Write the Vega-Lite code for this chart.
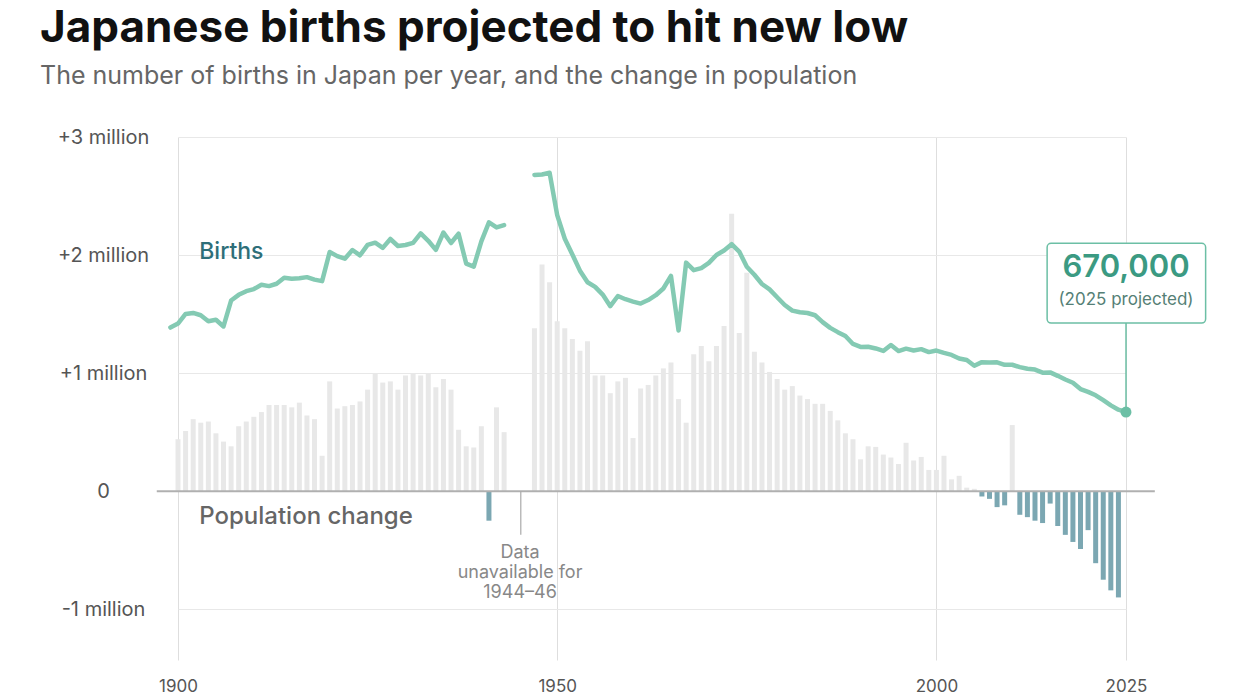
{
  "$schema": "https://vega.github.io/schema/vega-lite/v6.json",
  "width": 948,
  "height": 523,
  "autosize": {"type": "none"},
  "padding": {"left": 178, "top": 137, "right": 119, "bottom": 40},
  "background": "white",
  "config": {
    "font": "Inter",
    "view": {"stroke": null},
    "text": {"font": "Inter"}
  },
  "title": {
    "text": "Japanese births projected to hit new low",
    "subtitle": "The number of births in Japan per year, and the change in population",
    "anchor": "start",
    "frame": "group",
    "dx": -138,
    "offset": 38,
    "fontSize": 44,
    "fontWeight": 700,
    "color": "#111111",
    "subtitleFontSize": 25,
    "subtitleColor": "#666666",
    "subtitlePadding": 13,
    "subtitleFont": "Inter"
  },
  "datasets": {
    "births": [
      {"year": 1899, "births": 1386000, "seg": "a"},
      {"year": 1900, "births": 1420000, "seg": "a"},
      {"year": 1901, "births": 1501000, "seg": "a"},
      {"year": 1902, "births": 1510000, "seg": "a"},
      {"year": 1903, "births": 1490000, "seg": "a"},
      {"year": 1904, "births": 1440000, "seg": "a"},
      {"year": 1905, "births": 1452000, "seg": "a"},
      {"year": 1906, "births": 1395000, "seg": "a"},
      {"year": 1907, "births": 1615000, "seg": "a"},
      {"year": 1908, "births": 1663000, "seg": "a"},
      {"year": 1909, "births": 1694000, "seg": "a"},
      {"year": 1910, "births": 1712000, "seg": "a"},
      {"year": 1911, "births": 1748000, "seg": "a"},
      {"year": 1912, "births": 1737000, "seg": "a"},
      {"year": 1913, "births": 1757000, "seg": "a"},
      {"year": 1914, "births": 1808000, "seg": "a"},
      {"year": 1915, "births": 1800000, "seg": "a"},
      {"year": 1916, "births": 1804000, "seg": "a"},
      {"year": 1917, "births": 1813000, "seg": "a"},
      {"year": 1918, "births": 1792000, "seg": "a"},
      {"year": 1919, "births": 1779000, "seg": "a"},
      {"year": 1920, "births": 2026000, "seg": "a"},
      {"year": 1921, "births": 1991000, "seg": "a"},
      {"year": 1922, "births": 1969000, "seg": "a"},
      {"year": 1923, "births": 2043000, "seg": "a"},
      {"year": 1924, "births": 1998000, "seg": "a"},
      {"year": 1925, "births": 2086000, "seg": "a"},
      {"year": 1926, "births": 2105000, "seg": "a"},
      {"year": 1927, "births": 2061000, "seg": "a"},
      {"year": 1928, "births": 2136000, "seg": "a"},
      {"year": 1929, "births": 2077000, "seg": "a"},
      {"year": 1930, "births": 2085000, "seg": "a"},
      {"year": 1931, "births": 2103000, "seg": "a"},
      {"year": 1932, "births": 2183000, "seg": "a"},
      {"year": 1933, "births": 2121000, "seg": "a"},
      {"year": 1934, "births": 2044000, "seg": "a"},
      {"year": 1935, "births": 2191000, "seg": "a"},
      {"year": 1936, "births": 2102000, "seg": "a"},
      {"year": 1937, "births": 2181000, "seg": "a"},
      {"year": 1938, "births": 1928000, "seg": "a"},
      {"year": 1939, "births": 1902000, "seg": "a"},
      {"year": 1940, "births": 2116000, "seg": "a"},
      {"year": 1941, "births": 2277000, "seg": "a"},
      {"year": 1942, "births": 2234000, "seg": "a"},
      {"year": 1943, "births": 2254000, "seg": "a"},
      {"year": 1947, "births": 2679000, "seg": "b"},
      {"year": 1948, "births": 2682000, "seg": "b"},
      {"year": 1949, "births": 2697000, "seg": "b"},
      {"year": 1950, "births": 2338000, "seg": "b"},
      {"year": 1951, "births": 2138000, "seg": "b"},
      {"year": 1952, "births": 2005000, "seg": "b"},
      {"year": 1953, "births": 1868000, "seg": "b"},
      {"year": 1954, "births": 1770000, "seg": "b"},
      {"year": 1955, "births": 1731000, "seg": "b"},
      {"year": 1956, "births": 1665000, "seg": "b"},
      {"year": 1957, "births": 1567000, "seg": "b"},
      {"year": 1958, "births": 1653000, "seg": "b"},
      {"year": 1959, "births": 1626000, "seg": "b"},
      {"year": 1960, "births": 1606000, "seg": "b"},
      {"year": 1961, "births": 1589000, "seg": "b"},
      {"year": 1962, "births": 1619000, "seg": "b"},
      {"year": 1963, "births": 1660000, "seg": "b"},
      {"year": 1964, "births": 1717000, "seg": "b"},
      {"year": 1965, "births": 1824000, "seg": "b"},
      {"year": 1966, "births": 1361000, "seg": "b"},
      {"year": 1967, "births": 1936000, "seg": "b"},
      {"year": 1968, "births": 1872000, "seg": "b"},
      {"year": 1969, "births": 1890000, "seg": "b"},
      {"year": 1970, "births": 1934000, "seg": "b"},
      {"year": 1971, "births": 2001000, "seg": "b"},
      {"year": 1972, "births": 2039000, "seg": "b"},
      {"year": 1973, "births": 2092000, "seg": "b"},
      {"year": 1974, "births": 2030000, "seg": "b"},
      {"year": 1975, "births": 1901000, "seg": "b"},
      {"year": 1976, "births": 1833000, "seg": "b"},
      {"year": 1977, "births": 1755000, "seg": "b"},
      {"year": 1978, "births": 1709000, "seg": "b"},
      {"year": 1979, "births": 1643000, "seg": "b"},
      {"year": 1980, "births": 1577000, "seg": "b"},
      {"year": 1981, "births": 1529000, "seg": "b"},
      {"year": 1982, "births": 1515000, "seg": "b"},
      {"year": 1983, "births": 1509000, "seg": "b"},
      {"year": 1984, "births": 1490000, "seg": "b"},
      {"year": 1985, "births": 1432000, "seg": "b"},
      {"year": 1986, "births": 1383000, "seg": "b"},
      {"year": 1987, "births": 1347000, "seg": "b"},
      {"year": 1988, "births": 1314000, "seg": "b"},
      {"year": 1989, "births": 1247000, "seg": "b"},
      {"year": 1990, "births": 1222000, "seg": "b"},
      {"year": 1991, "births": 1223000, "seg": "b"},
      {"year": 1992, "births": 1209000, "seg": "b"},
      {"year": 1993, "births": 1188000, "seg": "b"},
      {"year": 1994, "births": 1238000, "seg": "b"},
      {"year": 1995, "births": 1187000, "seg": "b"},
      {"year": 1996, "births": 1207000, "seg": "b"},
      {"year": 1997, "births": 1192000, "seg": "b"},
      {"year": 1998, "births": 1203000, "seg": "b"},
      {"year": 1999, "births": 1178000, "seg": "b"},
      {"year": 2000, "births": 1191000, "seg": "b"},
      {"year": 2001, "births": 1171000, "seg": "b"},
      {"year": 2002, "births": 1154000, "seg": "b"},
      {"year": 2003, "births": 1124000, "seg": "b"},
      {"year": 2004, "births": 1111000, "seg": "b"},
      {"year": 2005, "births": 1063000, "seg": "b"},
      {"year": 2006, "births": 1093000, "seg": "b"},
      {"year": 2007, "births": 1090000, "seg": "b"},
      {"year": 2008, "births": 1091000, "seg": "b"},
      {"year": 2009, "births": 1070000, "seg": "b"},
      {"year": 2010, "births": 1071000, "seg": "b"},
      {"year": 2011, "births": 1051000, "seg": "b"},
      {"year": 2012, "births": 1037000, "seg": "b"},
      {"year": 2013, "births": 1030000, "seg": "b"},
      {"year": 2014, "births": 1004000, "seg": "b"},
      {"year": 2015, "births": 1006000, "seg": "b"},
      {"year": 2016, "births": 977000, "seg": "b"},
      {"year": 2017, "births": 946000, "seg": "b"},
      {"year": 2018, "births": 918000, "seg": "b"},
      {"year": 2019, "births": 865000, "seg": "b"},
      {"year": 2020, "births": 841000, "seg": "b"},
      {"year": 2021, "births": 812000, "seg": "b"},
      {"year": 2022, "births": 771000, "seg": "b"},
      {"year": 2023, "births": 727000, "seg": "b"},
      {"year": 2024, "births": 690000, "seg": "b"},
      {"year": 2025, "births": 670000, "seg": "b"}
    ],
    "pop": [
      {"year": 1900, "change": 440000},
      {"year": 1901, "change": 510000},
      {"year": 1902, "change": 610000},
      {"year": 1903, "change": 580000},
      {"year": 1904, "change": 590000},
      {"year": 1905, "change": 490000},
      {"year": 1906, "change": 420000},
      {"year": 1907, "change": 380000},
      {"year": 1908, "change": 550000},
      {"year": 1909, "change": 590000},
      {"year": 1910, "change": 630000},
      {"year": 1911, "change": 670000},
      {"year": 1912, "change": 730000},
      {"year": 1913, "change": 730000},
      {"year": 1914, "change": 730000},
      {"year": 1915, "change": 710000},
      {"year": 1916, "change": 750000},
      {"year": 1917, "change": 640000},
      {"year": 1918, "change": 610000},
      {"year": 1919, "change": 300000},
      {"year": 1920, "change": 930000},
      {"year": 1921, "change": 700000},
      {"year": 1922, "change": 720000},
      {"year": 1923, "change": 730000},
      {"year": 1924, "change": 760000},
      {"year": 1925, "change": 860000},
      {"year": 1926, "change": 1000000},
      {"year": 1927, "change": 920000},
      {"year": 1928, "change": 930000},
      {"year": 1929, "change": 860000},
      {"year": 1930, "change": 980000},
      {"year": 1931, "change": 1000000},
      {"year": 1932, "change": 980000},
      {"year": 1933, "change": 1000000},
      {"year": 1934, "change": 880000},
      {"year": 1935, "change": 950000},
      {"year": 1936, "change": 860000},
      {"year": 1937, "change": 520000},
      {"year": 1938, "change": 380000},
      {"year": 1939, "change": 370000},
      {"year": 1940, "change": 550000},
      {"year": 1941, "change": -250000},
      {"year": 1942, "change": 710000},
      {"year": 1943, "change": 500000},
      {"year": 1947, "change": 1380000},
      {"year": 1948, "change": 1920000},
      {"year": 1949, "change": 1770000},
      {"year": 1950, "change": 1440000},
      {"year": 1951, "change": 1380000},
      {"year": 1952, "change": 1290000},
      {"year": 1953, "change": 1190000},
      {"year": 1954, "change": 1270000},
      {"year": 1955, "change": 980000},
      {"year": 1956, "change": 980000},
      {"year": 1957, "change": 830000},
      {"year": 1958, "change": 930000},
      {"year": 1959, "change": 960000},
      {"year": 1960, "change": 450000},
      {"year": 1961, "change": 870000},
      {"year": 1962, "change": 900000},
      {"year": 1963, "change": 980000},
      {"year": 1964, "change": 1040000},
      {"year": 1965, "change": 1090000},
      {"year": 1966, "change": 780000},
      {"year": 1967, "change": 580000},
      {"year": 1968, "change": 1160000},
      {"year": 1969, "change": 1230000},
      {"year": 1970, "change": 1100000},
      {"year": 1971, "change": 1230000},
      {"year": 1972, "change": 1400000},
      {"year": 1973, "change": 2350000},
      {"year": 1974, "change": 1340000},
      {"year": 1975, "change": 1850000},
      {"year": 1976, "change": 1180000},
      {"year": 1977, "change": 1090000},
      {"year": 1978, "change": 1010000},
      {"year": 1979, "change": 950000},
      {"year": 1980, "change": 860000},
      {"year": 1981, "change": 890000},
      {"year": 1982, "change": 810000},
      {"year": 1983, "change": 780000},
      {"year": 1984, "change": 740000},
      {"year": 1985, "change": 740000},
      {"year": 1986, "change": 680000},
      {"year": 1987, "change": 600000},
      {"year": 1988, "change": 490000},
      {"year": 1989, "change": 440000},
      {"year": 1990, "change": 270000},
      {"year": 1991, "change": 380000},
      {"year": 1992, "change": 375000},
      {"year": 1993, "change": 310000},
      {"year": 1994, "change": 285000},
      {"year": 1995, "change": 230000},
      {"year": 1996, "change": 410000},
      {"year": 1997, "change": 260000},
      {"year": 1998, "change": 290000},
      {"year": 1999, "change": 180000},
      {"year": 2000, "change": 180000},
      {"year": 2001, "change": 300000},
      {"year": 2002, "change": 100000},
      {"year": 2003, "change": 130000},
      {"year": 2004, "change": 30000},
      {"year": 2005, "change": 20000},
      {"year": 2006, "change": -45000},
      {"year": 2007, "change": -65000},
      {"year": 2008, "change": -135000},
      {"year": 2009, "change": -120000},
      {"year": 2010, "change": 560000},
      {"year": 2011, "change": -200000},
      {"year": 2012, "change": -220000},
      {"year": 2013, "change": -250000},
      {"year": 2014, "change": -270000},
      {"year": 2015, "change": -105000},
      {"year": 2016, "change": -295000},
      {"year": 2017, "change": -370000},
      {"year": 2018, "change": -430000},
      {"year": 2019, "change": -490000},
      {"year": 2020, "change": -330000},
      {"year": 2021, "change": -610000},
      {"year": 2022, "change": -750000},
      {"year": 2023, "change": -840000},
      {"year": 2024, "change": -900000}
    ]
  },
  "encoding": {
    "x": {
      "field": "year",
      "type": "quantitative",
      "scale": {"domain": [1900, 2025], "nice": false, "zero": false, "padding": 0},
      "axis": {
        "title": null,
        "values": [1900, 1950, 2000, 2025],
        "format": "d",
        "grid": true,
        "gridColor": "#dedede",
        "gridWidth": 1,
        "domain": false,
        "ticks": false,
        "tickSize": 0,
        "labelFlush": false,
        "labelAlign": "center",
        "labelPadding": 18,
        "labelFontSize": 17,
        "labelColor": "#555555",
        "labelFont": "Inter"
      }
    }
  },
  "layer": [
    {
      "data": {"name": "pop"},
      "mark": {"type": "bar", "orient": "vertical", "size": 5},
      "encoding": {
        "y": {
          "field": "change",
          "type": "quantitative",
          "scale": {"domain": [-1430000, 3000000], "nice": false, "zero": false},
          "axis": {
            "title": null,
            "values": [-1000000, 0, 1000000, 2000000, 3000000],
            "labelExpr": "datum.value == 0 ? '0' : (datum.value > 0 ? '+' : '-') + format(abs(datum.value) / 1000000, 'd') + ' million'",
            "grid": true,
            "gridColor": "#e8e8e8",
            "gridWidth": 1,
            "domain": false,
            "ticks": false,
            "tickSize": 0,
            "labelAlign": "center",
            "labelBaseline": "middle",
            "labelPadding": 75,
            "labelFontSize": 20,
            "labelColor": "#555555",
            "labelFont": "Inter"
          }
        },
        "color": {
          "condition": {"test": "datum.change < 0", "value": "#7ba7b2"},
          "value": "#e8e8e8"
        }
      }
    },
    {
      "data": {"values": [{"x1": 1897.2, "x2": 2028.8, "v": 0}]},
      "mark": {"type": "rule", "color": "#b0b0b0", "strokeWidth": 2},
      "encoding": {
        "x": {"field": "x1", "type": "quantitative"},
        "x2": {"field": "x2"},
        "y": {"field": "v", "type": "quantitative"}
      }
    },
    {
      "data": {"values": [{"year": 1945.2, "top": 0, "bottom": -370000}]},
      "mark": {"type": "rule", "color": "#aaaaaa", "strokeWidth": 1.2},
      "encoding": {
        "y": {"field": "top", "type": "quantitative"},
        "y2": {"field": "bottom"}
      }
    },
    {
      "data": {"name": "births"},
      "mark": {"type": "line", "color": "#84cab3", "strokeWidth": 4.5, "strokeCap": "round", "strokeJoin": "round"},
      "encoding": {
        "y": {"field": "births", "type": "quantitative"},
        "detail": {"field": "seg"}
      }
    },
    {
      "data": {"values": [{"year": 2025, "top": 1424000, "bottom": 670000}]},
      "mark": {"type": "rule", "color": "#6cbfa5", "strokeWidth": 1.5},
      "encoding": {
        "y": {"field": "top", "type": "quantitative"},
        "y2": {"field": "bottom"}
      }
    },
    {
      "data": {"values": [{"year": 2025, "births": 670000}]},
      "mark": {"type": "circle", "color": "#6cbfa5", "opacity": 1, "size": 120},
      "encoding": {
        "y": {"field": "births", "type": "quantitative"}
      }
    },
    {
      "data": {"values": [{"x1": 2014.6, "x2": 2035.5, "y1": 1424000, "y2": 2100000}]},
      "mark": {"type": "rect", "fill": "white", "stroke": "#6cbfa5", "strokeWidth": 1.5, "cornerRadius": 4},
      "encoding": {
        "x": {"field": "x1", "type": "quantitative"},
        "x2": {"field": "x2"},
        "y": {"field": "y1", "type": "quantitative"},
        "y2": {"field": "y2"}
      }
    },
    {
      "data": {"values": [{"year": 2025, "v": 1890000, "label": "670,000"}]},
      "mark": {"type": "text", "fontSize": 31, "fontWeight": 600, "color": "#3b9a82", "align": "center", "baseline": "middle"},
      "encoding": {
        "y": {"field": "v", "type": "quantitative"},
        "text": {"field": "label"}
      }
    },
    {
      "data": {"values": [{"year": 2025, "v": 1620000, "label": "(2025 projected)"}]},
      "mark": {"type": "text", "fontSize": 17, "color": "#557f76", "align": "center", "baseline": "middle"},
      "encoding": {
        "y": {"field": "v", "type": "quantitative"},
        "text": {"field": "label"}
      }
    },
    {
      "data": {"values": [{"year": 1902.8, "v": 2030000, "label": "Births"}]},
      "mark": {"type": "text", "fontSize": 23, "fontWeight": 500, "color": "#2e6f79", "align": "left", "baseline": "middle"},
      "encoding": {
        "y": {"field": "v", "type": "quantitative"},
        "text": {"field": "label"}
      }
    },
    {
      "data": {"values": [{"year": 1902.8, "v": -220000, "label": "Population change"}]},
      "mark": {"type": "text", "fontSize": 24, "fontWeight": 500, "color": "#666666", "align": "left", "baseline": "middle"},
      "encoding": {
        "y": {"field": "v", "type": "quantitative"},
        "text": {"field": "label"}
      }
    },
    {
      "data": {"values": [{"year": 1945.1, "v": -525000, "label": "Data\nunavailable for\n1944–46"}]},
      "mark": {"type": "text", "fontSize": 18, "color": "#888888", "align": "center", "baseline": "middle", "lineBreak": "\n", "lineHeight": 20},
      "encoding": {
        "y": {"field": "v", "type": "quantitative"},
        "text": {"field": "label"}
      }
    }
  ]
}
